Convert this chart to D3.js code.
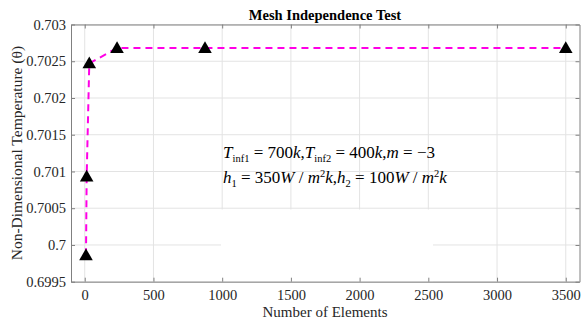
<!DOCTYPE html>
<html>
<head>
<meta charset="utf-8">
<script src="https://cdn.jsdelivr.net/npm/d3@7"></script>
<style>
  html, body { margin: 0; padding: 0; background: #fff; }
  svg { display: block; }
</style>
</head>
<body>
<svg id="chart" width="584" height="320"></svg>
<script>
// Mesh independence study: element count vs non-dimensional temperature
const elements = [9, 14, 33, 235, 875, 3500];
const theta = [0.69986, 0.70093, 0.70247, 0.70268, 0.70268, 0.70268];
const xTicks = [0, 500, 1000, 1500, 2000, 2500, 3000, 3500];
const yTicks = [0.6995, 0.7, 0.7005, 0.701, 0.7015, 0.702, 0.7025, 0.703];
const yTickLabels = ["0.6995", "0.7", "0.7005", "0.701", "0.7015", "0.702", "0.7025", "0.703"];

const SERIF = "Liberation Serif";
const svg = d3.select("#chart");
const m = { left: 71, top: 24.5, right: 579.5, bottom: 281.7 };

const x = d3.scaleLinear().domain([-100, 3600]).range([m.left, m.right]);
const y = d3.scaleLinear().domain([0.6995, 0.703]).range([m.bottom, m.top]);

// grid
const grid = svg.append("g").attr("stroke", "#e3e3e3").attr("stroke-width", 1);
grid.selectAll("line.gx").data(xTicks).join("line")
  .attr("x1", d => x(d)).attr("x2", d => x(d))
  .attr("y1", m.top).attr("y2", m.bottom);
grid.selectAll("line.gy").data(yTicks).join("line")
  .attr("x1", m.left).attr("x2", m.right)
  .attr("y1", d => y(d)).attr("y2", d => y(d));

// white backing patch inside the plot
svg.append("rect")
  .attr("x", 221).attr("y", 209.5)
  .attr("width", 212).attr("height", m.bottom - 210)
  .attr("fill", "#fff");

// axes (box with inward ticks)
const axisColor = "#808080";
const axBottom = svg.append("g").attr("transform", `translate(0,${m.bottom})`)
  .call(d3.axisBottom(x).tickValues(xTicks).tickSizeInner(-4).tickSizeOuter(0).tickPadding(8)
    .tickFormat(d3.format("d")));
const axTop = svg.append("g").attr("transform", `translate(0,${m.top})`)
  .call(d3.axisTop(x).tickValues(xTicks).tickSizeInner(-4).tickSizeOuter(0).tickFormat(""));
const axLeft = svg.append("g").attr("transform", `translate(${m.left},0)`)
  .call(d3.axisLeft(y).tickValues(yTicks).tickSizeInner(-4).tickSizeOuter(0).tickPadding(5)
    .tickFormat((d, i) => yTickLabels[i]));
const axRight = svg.append("g").attr("transform", `translate(${m.right},0)`)
  .call(d3.axisRight(y).tickValues(yTicks).tickSizeInner(-4).tickSizeOuter(0).tickFormat(""));

[axBottom, axTop, axLeft, axRight].forEach(g => {
  g.attr("font-family", SERIF).attr("font-size", 14.5);
  g.select(".domain").attr("stroke", axisColor).attr("stroke-width", 1);
  g.selectAll(".tick line").attr("stroke", axisColor);
  g.selectAll(".tick text")
    .style("font-family", SERIF).style("font-size", "14.5px").attr("fill", "#262626");
});

// data line
const line = d3.line().x((d, i) => x(elements[i])).y(d => y(d));
svg.append("path").datum(theta)
  .attr("d", line)
  .attr("fill", "none")
  .attr("stroke", "#ff00e6")
  .attr("stroke-width", 2)
  .attr("stroke-dasharray", "7,5");

// triangle markers
const tri = d3.symbol().type(d3.symbolTriangle).size(80);
svg.selectAll("path.mk").data(theta).join("path")
  .attr("class", "mk")
  .attr("d", tri)
  .attr("transform", (d, i) => `translate(${x(elements[i])},${y(d) + 1})`)
  .attr("fill", "#000");

// title and axis labels
svg.append("text").attr("x", 325).attr("y", 20)
  .attr("text-anchor", "middle")
  .style("font-family", SERIF).style("font-weight", "bold").style("font-size", "14.5px")
  .attr("fill", "#000")
  .text("Mesh Independence Test");
svg.append("text").attr("x", 325).attr("y", 317)
  .attr("text-anchor", "middle")
  .style("font-family", SERIF).style("font-size", "15px").attr("fill", "#262626")
  .text("Number of Elements");
svg.append("text")
  .attr("transform", `translate(22,${(m.top + m.bottom) / 2}) rotate(-90)`)
  .attr("text-anchor", "middle")
  .style("font-family", SERIF).style("font-size", "15.5px").attr("fill", "#262626")
  .text("Non-Dimensional Temperature (\u03b8)");

// parameter annotation
function eq(yPos, parts) {
  const t = svg.append("text").attr("x", 223).attr("y", yPos)
    .style("font-family", SERIF).style("font-size", "17px").attr("fill", "#000");
  parts.forEach(p => {
    const s = t.append("tspan").text(p.t).style("font-family", SERIF);
    if (p.i) s.style("font-style", "italic");
    if (p.sub) s.style("font-size", "10.5px").attr("dy", 4);
    if (p.sup) s.style("font-size", "10.5px").attr("dy", -6);
    if (p.back) s.attr("dy", p.back);
  });
}
eq(158, [
  { t: "T", i: true }, { t: "inf1", sub: true }, { t: " = 700", back: -4 }, { t: "k", i: true },
  { t: "," }, { t: "T", i: true }, { t: "inf2", sub: true }, { t: " = 400", back: -4 }, { t: "k", i: true },
  { t: "," }, { t: "m", i: true }, { t: " = \u22123" }
]);
eq(183, [
  { t: "h", i: true }, { t: "1", sub: true }, { t: " = 350", back: -4 }, { t: "W", i: true },
  { t: " / " }, { t: "m", i: true }, { t: "2", sup: true }, { t: "k", i: true, back: 6 },
  { t: "," }, { t: "h", i: true }, { t: "2", sub: true }, { t: " = 100", back: -4 }, { t: "W", i: true },
  { t: " / " }, { t: "m", i: true }, { t: "2", sup: true }, { t: "k", i: true, back: 6 }
]);
</script>
</body>
</html>
